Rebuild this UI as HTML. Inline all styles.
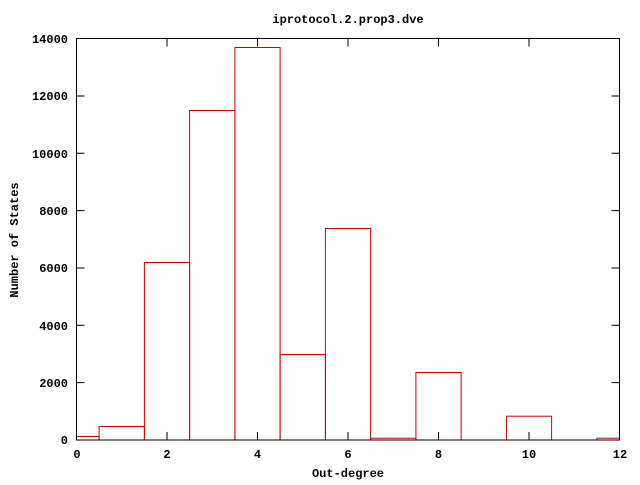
<!DOCTYPE html>
<html><head><style>body{margin:0;background:#fff}svg text{font-family:"Liberation Mono",monospace;font-weight:bold;font-size:12px;fill:#000}</style></head><body>
<svg width="640" height="480" viewBox="0 0 640 480" xmlns="http://www.w3.org/2000/svg">
<g fill="none" stroke="#cc0000" stroke-width="1">
<rect x="76.5" y="436.5" width="22.6" height="3.5"/>
<rect x="99.1" y="426.5" width="45.3" height="13.5"/>
<rect x="144.4" y="262.5" width="45.2" height="177.5"/>
<rect x="189.6" y="110.5" width="45.3" height="329.5"/>
<rect x="234.9" y="47.5" width="45.2" height="392.5"/>
<rect x="280.1" y="354.5" width="45.3" height="85.5"/>
<rect x="325.4" y="228.5" width="45.2" height="211.5"/>
<rect x="370.6" y="438.2" width="45.3" height="1.8"/>
<rect x="415.9" y="372.5" width="45.2" height="67.5"/>
<rect x="506.4" y="416.2" width="45.2" height="23.8"/>
<rect x="596.9" y="438.2" width="22.6" height="1.8"/>
</g>
<g stroke="#000" stroke-width="1" fill="none">
<rect x="76.5" y="38.5" width="543" height="401.5"/>
<path d="M76.5 382.6h8M611.5 382.6h8M76.5 325.3h8M611.5 325.3h8M76.5 268h8M611.5 268h8M76.5 210.6h8M611.5 210.6h8M76.5 153.3h8M611.5 153.3h8M76.5 96h8M611.5 96h8
M167 440v-8M167 38.5v8M257.5 440v-8M257.5 38.5v8M348 440v-8M348 38.5v8M438.5 440v-8M438.5 38.5v8M529 440v-8M529 38.5v8"/>
</g>
<g text-anchor="end">
<text x="68" y="444">0</text><text x="68" y="387">2000</text><text x="68" y="330">4000</text><text x="68" y="272">6000</text><text x="68" y="215">8000</text><text x="68" y="158">10000</text><text x="68" y="100">12000</text><text x="68" y="43">14000</text>
</g>
<g text-anchor="middle">
<text x="77" y="458">0</text><text x="167" y="458">2</text><text x="257.5" y="458">4</text><text x="348" y="458">6</text><text x="438.5" y="458">8</text><text x="529" y="458">10</text><text x="620" y="458">12</text>
<text x="348" y="477">Out-degree</text>
<text x="348" y="23">iprotocol.2.prop3.dve</text>
<text transform="translate(18 240) rotate(-90)">Number of States</text>
</g>
</svg>
</body></html>
